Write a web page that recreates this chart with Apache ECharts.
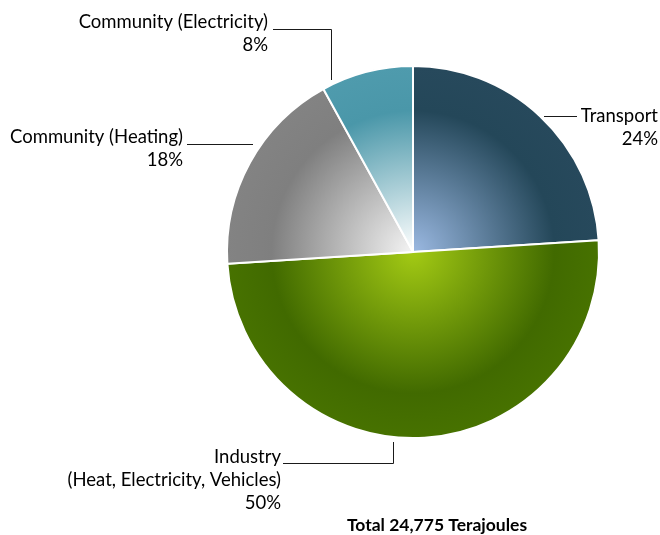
<!DOCTYPE html>
<html>
<head>
<meta charset="utf-8">
<script src="https://cdn.jsdelivr.net/npm/echarts@6/dist/echarts.min.js"></script>
<style>
  html, body { margin: 0; padding: 0; background: #fff; }
  #chart { width: 660px; height: 535px; }
</style>
</head>
<body>
<div id="chart"></div>
<script>
// Energy use by sector (share of total, %)
const categories = ['Transport', 'Industry\n(Heat, Electricity, Vehicles)', 'Community (Heating)', 'Community (Electricity)'];
const shares = [24, 50, 18, 8];
const totalLabel = 'Total 24,775 Terajoules';

// Radial shading per slice: [centre colour, rim colour, outer edge]
const shades = [
  ['#9bb9e2', '#244759', '#27495c'],
  ['#a3ca14', '#416a00', '#477200'],
  ['#f4f4f4', '#7f7f7f', '#838383'],
  ['#ffffff', '#4a97a9', '#4f9bad']
];

const CX = 413, CY = 252, R = 186;

// Label anchor (right edge, top of text block) and leader line for each slice
// (half-pixel offsets keep the 1px leader lines crisp)
const labelPlacement = [
  { x: 658, y: 105, line: [[544, 116.5], [577, 116.5]] },
  { x: 281, y: 446, line: [[393.5, 442], [393.5, 463.5], [283, 463.5]] },
  { x: 183, y: 126, line: [[253, 144.5], [187, 144.5]] },
  { x: 268, y: 11,  line: [[331.5, 80], [331.5, 29.5], [273, 29.5]] }
];

const FONT = 'Lato';
const FONT_SIZE = 18.5;

const chart = echarts.init(document.getElementById('chart'), null, { renderer: 'canvas' });

const data = categories.map((name, i) => ({
  name: name,
  value: shares[i],
  itemStyle: {
    color: {
      type: 'radial', x: CX, y: CY, r: R, global: true,
      colorStops: [
        { offset: 0, color: shades[i][0] },
        { offset: 0.76, color: shades[i][1] },
        { offset: 1, color: shades[i][2] }
      ]
    }
  }
}));

chart.setOption({
  animation: false,
  title: {
    text: totalLabel,
    left: 432,
    top: 511,
    textAlign: 'center',
    textStyle: { fontFamily: FONT, fontSize: 17.5, fontWeight: 'bold', color: '#000' }
  },
  series: [{
    type: 'pie',
    center: [CX, CY],
    radius: R,
    startAngle: 90,
    clockwise: true,
    avoidLabelOverlap: false,
    data: data,
    itemStyle: { borderColor: '#ffffff', borderWidth: 2 },
    label: {
      show: true,
      position: 'outside',
      formatter: p => p.name + '\n' + p.value + '%',
      fontFamily: FONT,
      fontSize: FONT_SIZE,
      lineHeight: 23,
      color: '#000',
      align: 'right'
    },
    labelLine: {
      show: true,
      smooth: false,
      lineStyle: { color: '#1a1a1a', width: 1 }
    },
    labelLayout: function (params) {
      const p = labelPlacement[params.dataIndex];
      return {
        x: p.x,
        y: p.y,
        align: 'right',
        verticalAlign: 'top',
        labelLinePoints: p.line
      };
    },
    emphasis: { disabled: true }
  }]
});
</script>
</body>
</html>
